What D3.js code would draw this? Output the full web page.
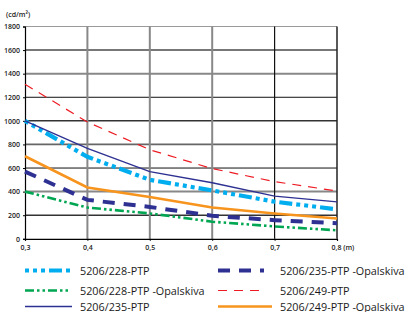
<!DOCTYPE html>
<html><head><meta charset="utf-8">
<script src="https://cdn.jsdelivr.net/npm/d3@7"></script>
<style>body{margin:0;background:#fff;} svg{display:block;} text{font-family:"Open Sans","DejaVu Sans",sans-serif;}</style>
</head><body>
<svg id="c" width="409" height="312"></svg>
<script>
const distances = [0.3, 0.4, 0.5, 0.6, 0.7, 0.8];
const xTickLabels = ["0,3", "0,4", "0,5", "0,6", "0,7", "0,8 (m)"];
const yTicks = [0, 200, 400, 600, 800, 1000, 1200, 1400, 1600, 1800];
const seriesNames = ["5206/228-PTP", "5206/228-PTP -Opalskiva", "5206/235-PTP",
  "5206/235-PTP -Opalskiva", "5206/249-PTP", "5206/249-PTP -Opalskiva"];
const s228 = [1000, 695, 500, 410, 315, 250];
const s228Opal = [400, 265, 215, 145, 105, 72];
const s235 = [1000, 767, 570, 475, 362, 313];
const s235Opal = [570, 330, 270, 195, 158, 132];
const s249 = [1310, 990, 755, 595, 485, 405];
const s249Opal = [700, 435, 355, 265, 215, 172];
const unitLabel = "(cd/m²)";

const styles = [
  {c:"#00AEEF", w:4.2, d:"4,4,4,4,4,4,13,4"},
  {c:"#00A651", w:2.6, d:"9,3,2.5,3,2.5,3"},
  {c:"#2E3192", w:1.4, d:null},
  {c:"#2E3192", w:4, d:"12,9"},
  {c:"#ED1C24", w:1.2, d:"9,7"},
  {c:"#F7941D", w:2.6, d:null}
];
const allSeries = [s228, s228Opal, s235, s235Opal, s249, s249Opal];

const svg = d3.select("#c");
const x = d3.scaleLinear().domain([0.3, 0.8]).range([25, 337]);
const y = d3.scaleLinear().domain([0, 1800]).range([238.8, 26.5]);

// grid
const hStyle = {1800:["#9a9a9a",1.2],1600:["#777",2],1400:["#888",2],1200:["#111",1],1000:["#333",1.5],800:["#666",1.8],600:["#111",1],400:["#888",2],200:["#333",1.5]};
yTicks.filter(v=>v>0).forEach(v=>{
  const st = hStyle[v];
  svg.append("line").attr("x1",x(0.3)).attr("x2",x(0.8)).attr("y1",y(v)).attr("y2",y(v))
    .attr("stroke",st[0]).attr("stroke-width",st[1]);
});
const vStyle = {0.4:["#888",2],0.5:["#888",2],0.6:["#888",2],0.7:["#111",1.2],0.8:["#222",1.5]};
distances.slice(1).forEach(v=>{
  const st = vStyle[v];
  svg.append("line").attr("x1",x(v)).attr("x2",x(v)).attr("y1",y(1800)).attr("y2",y(0))
    .attr("stroke",st[0]).attr("stroke-width",st[1]);
});

// axes
const yAxis = d3.axisLeft(y).tickValues(yTicks).tickSize(2).tickFormat(d3.format("d"));
const gy = svg.append("g").attr("transform",`translate(${x(0.3)},0)`).call(yAxis);
gy.select(".domain").attr("stroke","#000").attr("stroke-width",1.2);
gy.selectAll("text").attr("font-size","7px").attr("font-weight","600").attr("fill","#222").attr("dx","0");
const xAxis = d3.axisBottom(x).tickValues(distances).tickSize(2).tickFormat((d,i)=>xTickLabels[i]);
const gx = svg.append("g").attr("transform",`translate(0,${y(0)})`).call(xAxis);
gx.select(".domain").attr("stroke","#000").attr("stroke-width",1.2);
gx.selectAll("text").attr("font-size","7px").attr("font-weight","600").attr("fill","#222").attr("dy","0.9em");
gx.selectAll(".tick").filter((d,i)=>i===5).select("text").attr("text-anchor","start").attr("dx","-6");

svg.append("text").attr("x",6).attr("y",17).attr("font-size","7px").attr("font-weight","600").attr("fill","#222").text(unitLabel);

// lines
const line = d3.line().x((d,i)=>x(distances[i])).y(d=>y(d));
allSeries.forEach((s,k)=>{
  const st = styles[k];
  svg.append("path").attr("d",line(s)).attr("fill","none").attr("stroke",st.c)
    .attr("stroke-width",st.w).attr("stroke-dasharray",st.d);
});

// legend
const legPos = [[25,270.5],[25,290.5],[25,306.5],[218,270.5],[218,290.5],[218,306.5]];
const legLen = [47,45,47,46,46,54];
seriesNames.forEach((n,k)=>{
  const st = styles[k];
  const [lx,ly] = legPos[k];
  svg.append("line").attr("x1",lx).attr("x2",lx+legLen[k]).attr("y1",ly).attr("y2",ly)
    .attr("stroke",st.c).attr("stroke-width",st.w).attr("stroke-dasharray",st.d);
  svg.append("text").attr("x", k<3?80:280).attr("y",ly+4).attr("font-size","10.8px").attr("fill","#1a1a1a").text(n);
});
</script>
</body></html>
